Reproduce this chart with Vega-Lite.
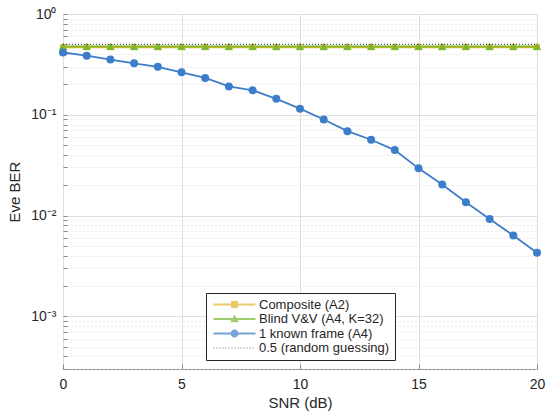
{
  "$schema": "https://vega.github.io/schema/vega-lite/v6.json",
  "width": 474,
  "height": 355,
  "autosize": "none",
  "padding": {"left": 63, "top": 14, "right": 13, "bottom": 48},
  "background": "white",
  "data": {
    "values": [
      {"snr": 0, "ber": 0.468, "series": "Composite (A2)"},
      {"snr": 1, "ber": 0.468, "series": "Composite (A2)"},
      {"snr": 2, "ber": 0.468, "series": "Composite (A2)"},
      {"snr": 3, "ber": 0.468, "series": "Composite (A2)"},
      {"snr": 4, "ber": 0.468, "series": "Composite (A2)"},
      {"snr": 5, "ber": 0.468, "series": "Composite (A2)"},
      {"snr": 6, "ber": 0.468, "series": "Composite (A2)"},
      {"snr": 7, "ber": 0.468, "series": "Composite (A2)"},
      {"snr": 8, "ber": 0.468, "series": "Composite (A2)"},
      {"snr": 9, "ber": 0.468, "series": "Composite (A2)"},
      {"snr": 10, "ber": 0.468, "series": "Composite (A2)"},
      {"snr": 11, "ber": 0.468, "series": "Composite (A2)"},
      {"snr": 12, "ber": 0.468, "series": "Composite (A2)"},
      {"snr": 13, "ber": 0.468, "series": "Composite (A2)"},
      {"snr": 14, "ber": 0.468, "series": "Composite (A2)"},
      {"snr": 15, "ber": 0.468, "series": "Composite (A2)"},
      {"snr": 16, "ber": 0.468, "series": "Composite (A2)"},
      {"snr": 17, "ber": 0.468, "series": "Composite (A2)"},
      {"snr": 18, "ber": 0.468, "series": "Composite (A2)"},
      {"snr": 19, "ber": 0.468, "series": "Composite (A2)"},
      {"snr": 20, "ber": 0.468, "series": "Composite (A2)"},
      {"snr": 0, "ber": 0.478, "series": "Blind V&V (A4, K=32)"},
      {"snr": 1, "ber": 0.478, "series": "Blind V&V (A4, K=32)"},
      {"snr": 2, "ber": 0.478, "series": "Blind V&V (A4, K=32)"},
      {"snr": 3, "ber": 0.478, "series": "Blind V&V (A4, K=32)"},
      {"snr": 4, "ber": 0.478, "series": "Blind V&V (A4, K=32)"},
      {"snr": 5, "ber": 0.478, "series": "Blind V&V (A4, K=32)"},
      {"snr": 6, "ber": 0.478, "series": "Blind V&V (A4, K=32)"},
      {"snr": 7, "ber": 0.478, "series": "Blind V&V (A4, K=32)"},
      {"snr": 8, "ber": 0.478, "series": "Blind V&V (A4, K=32)"},
      {"snr": 9, "ber": 0.478, "series": "Blind V&V (A4, K=32)"},
      {"snr": 10, "ber": 0.478, "series": "Blind V&V (A4, K=32)"},
      {"snr": 11, "ber": 0.478, "series": "Blind V&V (A4, K=32)"},
      {"snr": 12, "ber": 0.478, "series": "Blind V&V (A4, K=32)"},
      {"snr": 13, "ber": 0.478, "series": "Blind V&V (A4, K=32)"},
      {"snr": 14, "ber": 0.478, "series": "Blind V&V (A4, K=32)"},
      {"snr": 15, "ber": 0.478, "series": "Blind V&V (A4, K=32)"},
      {"snr": 16, "ber": 0.478, "series": "Blind V&V (A4, K=32)"},
      {"snr": 17, "ber": 0.478, "series": "Blind V&V (A4, K=32)"},
      {"snr": 18, "ber": 0.478, "series": "Blind V&V (A4, K=32)"},
      {"snr": 19, "ber": 0.478, "series": "Blind V&V (A4, K=32)"},
      {"snr": 20, "ber": 0.478, "series": "Blind V&V (A4, K=32)"},
      {"snr": 0, "ber": 0.415, "series": "1 known frame (A4)"},
      {"snr": 1, "ber": 0.386, "series": "1 known frame (A4)"},
      {"snr": 2, "ber": 0.353, "series": "1 known frame (A4)"},
      {"snr": 3, "ber": 0.324, "series": "1 known frame (A4)"},
      {"snr": 4, "ber": 0.299, "series": "1 known frame (A4)"},
      {"snr": 5, "ber": 0.264, "series": "1 known frame (A4)"},
      {"snr": 6, "ber": 0.232, "series": "1 known frame (A4)"},
      {"snr": 7, "ber": 0.191, "series": "1 known frame (A4)"},
      {"snr": 8, "ber": 0.175, "series": "1 known frame (A4)"},
      {"snr": 9, "ber": 0.144, "series": "1 known frame (A4)"},
      {"snr": 10, "ber": 0.115, "series": "1 known frame (A4)"},
      {"snr": 11, "ber": 0.0898, "series": "1 known frame (A4)"},
      {"snr": 12, "ber": 0.0688, "series": "1 known frame (A4)"},
      {"snr": 13, "ber": 0.0565, "series": "1 known frame (A4)"},
      {"snr": 14, "ber": 0.0446, "series": "1 known frame (A4)"},
      {"snr": 15, "ber": 0.0294, "series": "1 known frame (A4)"},
      {"snr": 16, "ber": 0.0203, "series": "1 known frame (A4)"},
      {"snr": 17, "ber": 0.01355, "series": "1 known frame (A4)"},
      {"snr": 18, "ber": 0.00925, "series": "1 known frame (A4)"},
      {"snr": 19, "ber": 0.00634, "series": "1 known frame (A4)"},
      {"snr": 20, "ber": 0.00427, "series": "1 known frame (A4)"},
      {"snr": 0, "ber": 0.5, "series": "0.5 (random guessing)"},
      {"snr": 20, "ber": 0.5, "series": "0.5 (random guessing)"}
    ]
  },
  "layer": [
    {
      "transform": [{"filter": "datum.series == 'Composite (A2)'"}],
      "mark": {"type": "line", "strokeWidth": 1.8, "color": "#e3b22a"},
      "encoding": {
        "x": {
          "field": "snr", "type": "quantitative",
          "scale": {"domain": [0, 20], "nice": false},
          "axis": {
            "values": [0, 5, 10, 15, 20], "format": "d", "title": "SNR (dB)",
            "tickSize": -5, "labelPadding": 13, "titlePadding": 4, "labelFlush": false
          }
        },
        "y": {
          "field": "ber", "type": "quantitative",
          "scale": {"type": "log", "domain": [0.0003, 1], "nice": false},
          "axis": {
            "title": "Eve BER",
            "values": [0.0003, 0.0004, 0.0005, 0.0006, 0.0007, 0.0008, 0.0009, 0.001, 0.002, 0.003, 0.004, 0.005, 0.006, 0.007, 0.008, 0.009, 0.01, 0.02, 0.03, 0.04, 0.05, 0.06, 0.07, 0.08, 0.09, 0.1, 0.2, 0.3, 0.4, 0.5, 0.6, 0.7, 0.8, 0.9, 1],
            "labelExpr": "abs(log(datum.value)/LN10 - round(log(datum.value)/LN10)) < 0.001 ? (round(log(datum.value)/LN10) == 0 ? '10⁰' : round(log(datum.value)/LN10) == -1 ? '10⁻¹' : round(log(datum.value)/LN10) == -2 ? '10⁻²' : '10⁻³') : ''",
            "gridDash": {"condition": {"test": "abs(log(datum.value)/LN10 - round(log(datum.value)/LN10)) < 0.001", "value": []}, "value": [1, 3]},
            "gridColor": {"condition": {"test": "abs(log(datum.value)/LN10 - round(log(datum.value)/LN10)) < 0.001", "value": "#dedede"}, "value": "#d6d6d6"},
            "tickSize": -4, "labelPadding": 11, "titlePadding": 8, "labelOverlap": false, "labelFlush": false
          }
        }
      }
    },
    {
      "transform": [{"filter": "datum.series == 'Blind V&V (A4, K=32)'"}],
      "mark": {"type": "line", "strokeWidth": 1.8, "color": "#78b930"},
      "encoding": {
        "x": {"field": "snr", "type": "quantitative"},
        "y": {"field": "ber", "type": "quantitative"}
      }
    },
    {
      "transform": [{"filter": "datum.series == '1 known frame (A4)'"}],
      "mark": {"type": "line", "strokeWidth": 1.8, "color": "#3c7ec9"},
      "encoding": {
        "x": {"field": "snr", "type": "quantitative"},
        "y": {"field": "ber", "type": "quantitative"}
      }
    },
    {
      "transform": [{"filter": "datum.series == 'Composite (A2)'"}],
      "mark": {"type": "point", "filled": true, "opacity": 1, "size": 36, "shape": "square", "color": "#e3b22a"},
      "encoding": {
        "x": {"field": "snr", "type": "quantitative"},
        "y": {"field": "ber", "type": "quantitative"}
      }
    },
    {
      "transform": [{"filter": "datum.series == 'Blind V&V (A4, K=32)'"}],
      "mark": {"type": "point", "filled": true, "opacity": 1, "size": 72, "shape": "triangle-up", "color": "#78b930"},
      "encoding": {
        "x": {"field": "snr", "type": "quantitative"},
        "y": {"field": "ber", "type": "quantitative"}
      }
    },
    {
      "transform": [{"filter": "datum.series == '1 known frame (A4)'"}],
      "mark": {"type": "point", "filled": true, "opacity": 1, "size": 64, "shape": "circle", "color": "#3c7ec9"},
      "encoding": {
        "x": {"field": "snr", "type": "quantitative"},
        "y": {"field": "ber", "type": "quantitative"}
      }
    },
    {
      "transform": [{"filter": "datum.series == '0.5 (random guessing)'"}],
      "mark": {"type": "line", "strokeWidth": 1, "strokeDash": [1, 2], "color": "#333333"},
      "encoding": {
        "x": {"field": "snr", "type": "quantitative"},
        "y": {"field": "ber", "type": "quantitative"}
      }
    },
    {
      "transform": [{"filter": "datum.snr < 0"}],
      "mark": {"type": "point", "filled": true, "size": 64},
      "encoding": {
        "x": {"field": "snr", "type": "quantitative"},
        "y": {"field": "ber", "type": "quantitative"},
        "color": {
          "field": "series", "type": "nominal",
          "scale": {
            "domain": ["Composite (A2)", "Blind V&V (A4, K=32)", "1 known frame (A4)", "0.5 (random guessing)"],
            "range": ["#e3b22a", "#78b930", "#3c7ec9", "#333333"]
          },
          "legend": {
            "title": null,
            "orient": "none",
            "legendX": 143,
            "legendY": 279,
            "padding": 5,
            "strokeColor": "#262626",
            "fillColor": "white",
            "symbolSize": 64,
            "symbolOffset": 17,
            "labelOffset": 18,
            "symbolStrokeWidth": 0,
            "labelFont": "Liberation Sans",
            "labelFontSize": 13,
            "labelColor": "#262626",
            "rowPadding": 0.5
          }
        },
        "shape": {
          "field": "series", "type": "nominal",
          "scale": {
            "domain": ["Composite (A2)", "Blind V&V (A4, K=32)", "1 known frame (A4)", "0.5 (random guessing)"],
            "range": [
              "M-5.25,-0.225H5.25V0.225H-5.25Z M-0.875,-0.875H0.875V0.875H-0.875Z",
              "M-5.25,-0.225H5.25V0.225H-5.25Z M0,-1.1L1.1,0.8H-1.1Z",
              "M-5.25,-0.225H5.25V0.225H-5.25Z M-1,0A1,1 0 1,1 1,0A1,1 0 1,1 -1,0Z",
              "M-5.25,-0.12h0.25v0.24h-0.25Z M-4.5,-0.12h0.25v0.24h-0.25Z M-3.75,-0.12h0.25v0.24h-0.25Z M-3,-0.12h0.25v0.24h-0.25Z M-2.25,-0.12h0.25v0.24h-0.25Z M-1.5,-0.12h0.25v0.24h-0.25Z M-0.75,-0.12h0.25v0.24h-0.25Z M0,-0.12h0.25v0.24h-0.25Z M0.75,-0.12h0.25v0.24h-0.25Z M1.5,-0.12h0.25v0.24h-0.25Z M2.25,-0.12h0.25v0.24h-0.25Z M3,-0.12h0.25v0.24h-0.25Z M3.75,-0.12h0.25v0.24h-0.25Z M4.5,-0.12h0.25v0.24h-0.25Z"
            ]
          }
        }
      }
    }
  ],
  "config": {
    "font": "Liberation Sans",
    "view": {"stroke": "#8a8a8a", "strokeWidth": 1},
    "axis": {
      "domain": false,
      "grid": true,
      "gridColor": "#dedede",
      "tickColor": "#8a8a8a",
      "labelFont": "Liberation Sans",
      "labelFontSize": 14,
      "labelColor": "#262626",
      "titleFont": "Liberation Sans",
      "titleFontSize": 15,
      "titleFontWeight": "normal",
      "titleColor": "#262626"
    }
  }
}
